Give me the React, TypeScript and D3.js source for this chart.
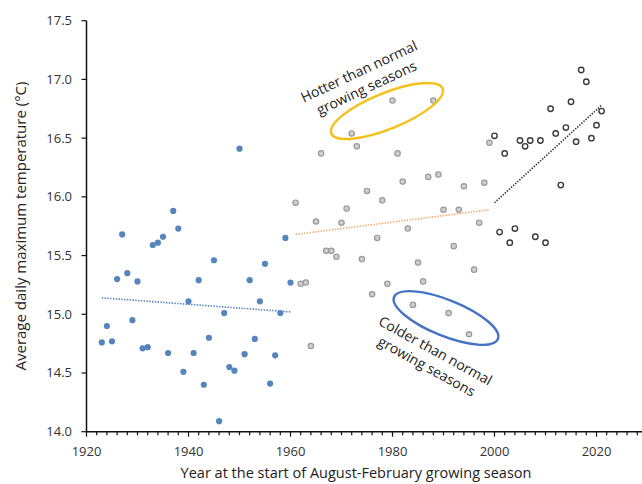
import * as d3 from "d3";
import { useEffect, useRef } from "react";

// seasons 1923-1960 (blue), 1961-1999 (grey), 2000-2021 (open)
const earlyStart = 1923;
const earlyTemps = [14.76, 14.9, 14.77, 15.3, 15.68, 15.35, 14.95, 15.28, 14.71, 14.72, 15.59, 15.61, 15.66, 14.67, 15.88, 15.73, 14.51, 15.11, 14.67, 15.29, 14.4, 14.8, 15.46, 14.09, 15.01, 14.55, 14.52, 16.41, 14.66, 15.29, 14.79, 15.11, 15.43, 14.41, 14.65, 15.01, 15.65, 15.27];
const midStart = 1961;
const midTemps = [15.95, 15.26, 15.27, 14.73, 15.79, 16.37, 15.54, 15.54, 15.49, 15.78, 15.9, 16.54, 16.43, 15.47, 16.05, 15.17, 15.65, 15.97, 15.26, 16.82, 16.37, 16.13, 15.73, 15.08, 15.44, 15.28, 16.17, 16.82, 16.19, 15.89, 15.01, 15.58, 15.89, 16.09, 14.83, 15.38, 15.78, 16.12, 16.46];
const lateStart = 2000;
const lateTemps = [16.52, 15.7, 16.37, 15.61, 15.73, 16.48, 16.43, 16.48, 15.66, 16.48, 15.61, 16.75, 16.54, 16.1, 16.59, 16.81, 16.47, 17.08, 16.98, 16.5, 16.61, 16.73];

// trend lines: [year0, value0, year1, value1]
const trendEarly = [1923, 15.14, 1960, 15.02];
const trendMid = [1961, 15.68, 1999, 15.89];
const trendLate = [2000, 15.95, 2021, 16.78];

const yTicks = [14.0, 14.5, 15.0, 15.5, 16.0, 16.5, 17.0, 17.5];
const xLabels = [1920, 1940, 1960, 1980, 2000, 2020];

const font = "'Open Sans', sans-serif";

const App = () => {
    const svgRef = useRef(null);

    useEffect(() => {
        const svg = d3.select(svgRef.current);
        svg.selectAll("*").remove();

        const x = d3.scaleLinear().domain([1920, 2030]).range([86.5, 647.5]);
        const y = d3.scaleLinear().domain([14, 17.5]).range([431.7, 20.7]);

        // trend lines
        const trends = [
            { t: trendEarly, color: "#4f81bd" },
            { t: trendMid, color: "#f4a96a" },
            { t: trendLate, color: "#333" },
        ];
        svg.selectAll("line.trend")
            .data(trends)
            .enter()
            .append("line")
            .attr("class", "trend")
            .attr("x1", (d) => x(d.t[0]))
            .attr("y1", (d) => y(d.t[1]))
            .attr("x2", (d) => x(d.t[2]))
            .attr("y2", (d) => y(d.t[3]))
            .attr("stroke", (d) => d.color)
            .attr("stroke-width", 1.6)
            .attr("stroke-dasharray", "1.4,1.4");

        // points
        const groups = [
            { start: earlyStart, temps: earlyTemps, fill: "#5585bd", stroke: "none", sw: 0 },
            { start: midStart, temps: midTemps, fill: "#cfcfcf", stroke: "#9a9a9a", sw: 1.2 },
            { start: lateStart, temps: lateTemps, fill: "#fff", stroke: "#3a3a3a", sw: 1.4 },
        ];
        groups.forEach((g) => {
            svg.append("g")
                .selectAll("circle")
                .data(g.temps)
                .enter()
                .append("circle")
                .attr("cx", (d, i) => x(g.start + i))
                .attr("cy", (d) => y(d))
                .attr("r", g.sw ? 2.7 : 3.1)
                .attr("fill", g.fill)
                .attr("stroke", g.stroke)
                .attr("stroke-width", g.sw);
        });

        // annotation ellipses
        svg.append("ellipse")
            .attr("transform", "translate(387,111) rotate(-22)")
            .attr("rx", 60)
            .attr("ry", 18)
            .attr("fill", "none")
            .attr("stroke", "#f5c01a")
            .attr("stroke-width", 2.4);
        svg.append("ellipse")
            .attr("transform", "translate(446,318) rotate(22)")
            .attr("rx", 56)
            .attr("ry", 18)
            .attr("fill", "none")
            .attr("stroke", "#4472c4")
            .attr("stroke-width", 2.4);

        const note = (tx, ty, angle, lines) => {
            const g = svg.append("g").attr("transform", `translate(${tx},${ty}) rotate(${angle})`);
            lines.forEach((l, i) => {
                g.append("text")
                    .attr("y", i * 18)
                    .attr("text-anchor", "middle")
                    .attr("font-family", font)
                    .attr("font-size", 14)
                    .attr("fill", "#222")
                    .text(l);
            });
        };
        note(361, 76, -25, ["Hotter than normal", "growing seasons"]);
        note(433, 355, 29, ["Colder than normal", "growing seasons"]);

        // axes
        const axisColor = "#111";
        svg.append("line")
            .attr("x1", x(1920)).attr("x2", 642)
            .attr("y1", y(14)).attr("y2", y(14))
            .attr("stroke", axisColor).attr("stroke-width", 1.5);
        svg.append("line")
            .attr("x1", x(1920)).attr("x2", x(1920))
            .attr("y1", y(17.5)).attr("y2", y(14))
            .attr("stroke", axisColor).attr("stroke-width", 1.5);

        svg.append("g")
            .selectAll("line")
            .data(d3.range(1920, 2031, 2))
            .enter()
            .append("line")
            .attr("x1", (d) => x(d)).attr("x2", (d) => x(d))
            .attr("y1", y(14)).attr("y2", (d) => y(14) + (d % 20 === 0 ? 5 : 3.5))
            .attr("stroke", axisColor).attr("stroke-width", 1.2);

        svg.append("g")
            .selectAll("line")
            .data(yTicks)
            .enter()
            .append("line")
            .attr("x1", x(1920) - 5).attr("x2", x(1920))
            .attr("y1", (d) => y(d)).attr("y2", (d) => y(d))
            .attr("stroke", axisColor).attr("stroke-width", 1.2);

        svg.append("g")
            .selectAll("text")
            .data(yTicks)
            .enter()
            .append("text")
            .attr("x", 72)
            .attr("y", (d) => y(d) + 4.5)
            .attr("text-anchor", "end")
            .attr("font-family", font)
            .attr("font-size", 13)
            .attr("fill", "#333")
            .text((d) => d.toFixed(1));

        svg.append("g")
            .selectAll("text")
            .data(xLabels)
            .enter()
            .append("text")
            .attr("x", (d) => x(d))
            .attr("y", 456)
            .attr("text-anchor", "middle")
            .attr("font-family", font)
            .attr("font-size", 13)
            .attr("fill", "#333")
            .text((d) => d);

        svg.append("text")
            .attr("x", 356)
            .attr("y", 478)
            .attr("text-anchor", "middle")
            .attr("font-family", font)
            .attr("font-size", 14.5)
            .attr("fill", "#222")
            .text("Year at the start of August-February growing season");

        svg.append("text")
            .attr("transform", "translate(26,226) rotate(-90)")
            .attr("text-anchor", "middle")
            .attr("font-family", font)
            .attr("font-size", 15)
            .attr("fill", "#222")
            .text("Average daily maximum temperature (°C)");
    }, []);

    return (
        <svg
            ref={svgRef}
            width={642}
            height={484}
            style={{ position: "absolute", left: 0, top: 0, background: "#fff" }}
        ></svg>
    );
};

export default App;
